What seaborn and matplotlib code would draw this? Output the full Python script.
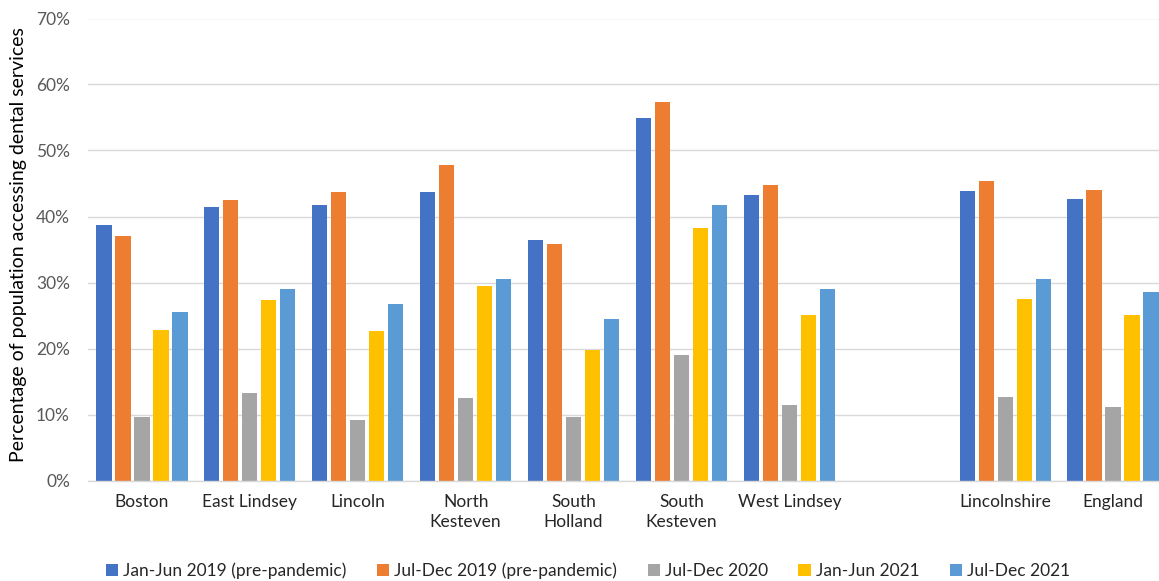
import matplotlib
matplotlib.use("Agg")
import matplotlib.pyplot as plt
import matplotlib.ticker as mticker
import seaborn as sns
import pandas as pd

# Areas on the x axis; the blank entry keeps a visual gap before the county/national totals
areas = ["Boston", "East Lindsey", "Lincoln", "North\nKesteven", "South\nHolland",
         "South\nKesteven", "West Lindsey", " ", "Lincolnshire", "England"]
data_areas = [a for a in areas if a.strip()]

periods = ["Jan-Jun 2019 (pre-pandemic)", "Jul-Dec 2019 (pre-pandemic)",
           "Jul-Dec 2020", "Jan-Jun 2021", "Jul-Dec 2021"]

# Share of population accessing dental services (fraction), one list per period
jan_jun_2019 = [0.387, 0.415, 0.418, 0.437, 0.365, 0.549, 0.432, 0.438, 0.426]
jul_dec_2019 = [0.370, 0.425, 0.437, 0.478, 0.358, 0.574, 0.448, 0.454, 0.440]
jul_dec_2020 = [0.096, 0.133, 0.092, 0.125, 0.096, 0.190, 0.114, 0.126, 0.112]
jan_jun_2021 = [0.228, 0.273, 0.227, 0.295, 0.198, 0.382, 0.251, 0.275, 0.251]
jul_dec_2021 = [0.256, 0.290, 0.267, 0.305, 0.245, 0.418, 0.290, 0.305, 0.285]

colors = ["#4472C4", "#ED7D31", "#A5A5A5", "#FFC000", "#5B9BD5"]

series = [jan_jun_2019, jul_dec_2019, jul_dec_2020, jan_jun_2021, jul_dec_2021]
rows = []
for period, vals in zip(periods, series):
    for area, v in zip(data_areas, vals):
        rows.append({"area": area, "period": period, "value": v})
df = pd.DataFrame(rows)

sns.set_theme(style="white")
plt.rcParams["font.family"] = ["Lato", "DejaVu Sans"]

fig = plt.figure(figsize=(11.59, 5.81), dpi=100)
W, H = 1159, 581
left, right, top, bottom = 88, 1167, 18.5, 480.5
ax = fig.add_axes([left / W, 1 - bottom / H, (right - left) / W, (bottom - top) / H])

sns.barplot(data=df, x="area", y="value", hue="period", order=areas,
            hue_order=periods, palette=colors, width=0.88, gap=0.2,
            saturation=1, edgecolor="none", linewidth=0, errorbar=None, ax=ax)

ax.set_ylim(0, 0.70)
ax.set_xlim(-0.5, len(areas) - 0.5)
ax.yaxis.set_major_locator(mticker.MultipleLocator(0.10))
ax.yaxis.set_major_formatter(mticker.PercentFormatter(1.0, decimals=0))
ax.grid(axis="y", color="#d9d9d9", linewidth=1.0)
ax.set_axisbelow(True)
for s in ["left", "right", "top"]:
    ax.spines[s].set_visible(False)
ax.spines["bottom"].set_color("#d9d9d9")
ax.spines["bottom"].set_linewidth(1.0)
ax.tick_params(axis="y", length=0, pad=13, labelsize=12.5, labelcolor="#595959")
ax.tick_params(axis="x", length=0, pad=10, labelsize=12.5, labelcolor="#262626")
for lbl in ax.get_xticklabels():
    lbl.set_linespacing(1.3)
ax.set_xlabel("")
ax.set_ylabel("Percentage of population accessing dental services",
              fontsize=14, color="#000000")
ax.yaxis.set_label_coords(27 / W, 1 - 245 / H, transform=fig.transFigure)

handles, labels = ax.get_legend_handles_labels()
ax.get_legend().remove()
fig.legend(handles, labels, loc="center", bbox_to_anchor=(588 / W, 1 - 571 / H),
           ncol=5, frameon=False, fontsize=12.5, handlelength=0.7, handleheight=0.7,
           handletextpad=0.3, columnspacing=1.75, labelcolor="#262626")

fig.savefig("out.png", dpi=100)
